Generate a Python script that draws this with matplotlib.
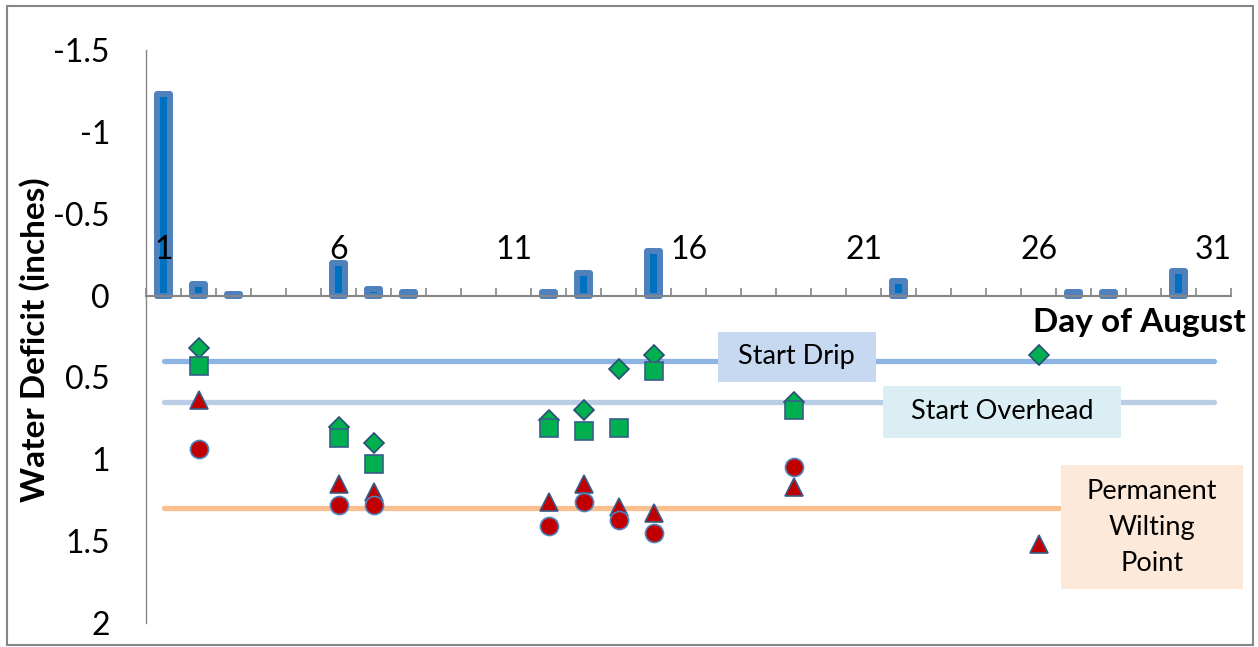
import numpy as np
import matplotlib.pyplot as plt
from matplotlib.patches import Rectangle

plt.rcParams['font.family'] = ['Lato', 'DejaVu Sans']

# rain / irrigation bars (negative = water added)
bar_days = [1, 2, 3, 6, 7, 8, 12, 13, 15, 22, 27, 28, 30]
bar_vals = [-1.23, -0.07, -0.01, -0.20, -0.04, -0.02, -0.02, -0.14, -0.27, -0.09, -0.02, -0.02, -0.15]

# deficit readings, four sensors
dia_days = [2, 6, 7, 12, 13, 14, 15, 19, 26]
dia_vals = [0.32, 0.80, 0.90, 0.76, 0.70, 0.45, 0.36, 0.65, 0.36]
sq_days = [2, 6, 7, 12, 13, 14, 15, 19]
sq_vals = [0.43, 0.87, 1.03, 0.81, 0.83, 0.81, 0.46, 0.70]
tri_days = [2, 6, 7, 12, 13, 14, 15, 19, 26]
tri_vals = [0.64, 1.15, 1.20, 1.26, 1.15, 1.29, 1.33, 1.17, 1.52]
circ_days = [2, 6, 7, 12, 13, 14, 15, 19]
circ_vals = [0.94, 1.28, 1.28, 1.41, 1.26, 1.37, 1.45, 1.05]

# thresholds
line_days = [1, 31]
drip_level = 0.4
overhead_level = 0.65
pwp_level = 1.3

y_ticks = [-1.5, -1, -0.5, 0, 0.5, 1, 1.5, 2]
y_labels = ['-1.5', '-1', '-0.5', '0', '0.5', '1', '1.5', '2']
x_ticks = [1, 6, 11, 16, 21, 26, 31]

fig = plt.figure(figsize=(12.58, 6.47), dpi=100)
ax = fig.add_axes([0.1161, 0.0371, 0.8625, 0.8856])

# threshold lines
ax.plot(line_days, [drip_level] * 2, color='#8EB4E3', lw=3.8, solid_capstyle='round', zorder=1)
ax.plot(line_days, [overhead_level] * 2, color='#B9CDE5', lw=3.8, solid_capstyle='round', zorder=1)
ax.plot(line_days, [pwp_level] * 2, color='#FAC090', lw=3.8, solid_capstyle='round', zorder=1)

# bars below the axis labels so "1" shows on top of the tall bar
bars = ax.bar(bar_days, bar_vals, width=0.39, color='#0070C0', edgecolor='#4F81BD',
              linewidth=4.3, zorder=1.2)
for b in bars:
    b.set_joinstyle('round')

ax.plot(dia_days, dia_vals, 'D', ms=10, mfc='#00B050', mec='#2C4D75', mew=1.2, zorder=3)
ax.plot(sq_days, sq_vals, 's', ms=13, mfc='#00B050', mec='#385D8A', mew=1.2, zorder=4)
ax.plot(tri_days, tri_vals, '^', ms=13.5, mfc='#C00000', mec='#385D8A', mew=1.2, zorder=5)
ax.plot(circ_days, circ_vals, 'o', ms=13, mfc='#C00000', mec='#4F81BD', mew=1.2, zorder=6)

ax.set_xlim(0.5, 31.5)
ax.set_ylim(2, -1.5)

# x axis sits at zero, labels above it
ax.spines['bottom'].set_visible(False)
ax.spines['right'].set_visible(False)
ax.spines['top'].set_position(('data', 0))
ax.spines['top'].set_color('#868686')
ax.spines['top'].set_linewidth(1.5)
ax.spines['left'].set_color('#868686')
ax.spines['left'].set_linewidth(1.0)
ax.xaxis.tick_top()
ax.set_xticks(x_ticks)
ax.set_xticklabels([str(d) for d in x_ticks])
ax.set_xticks(np.arange(0.5, 32, 1), minor=True)
ax.tick_params(axis='x', which='major', length=0, pad=22, labelsize=23)
ax.tick_params(axis='x', which='minor', length=6, width=1.2, color='#868686', direction='out')

ax.set_yticks(y_ticks)
ax.set_yticklabels(y_labels)
ax.tick_params(axis='y', length=0, pad=26, labelsize=23)

fig.text(35 / 1258, 1 - 340 / 647, 'Water Deficit (inches)', rotation=90,
         ha='center', va='center', fontsize=24, fontweight='bold')
ax.text(1.0138, 0.525, 'Day of August', transform=ax.transAxes, ha='right', va='center',
        fontsize=24, fontweight='bold', clip_on=False)

# label boxes
boxes = [
    (0.527, 0.4206, 0.1456, 0.0873, '#C6D9F1', 'Start Drip', 1.0),
    (0.6793, 0.3229, 0.2194, 0.0908, '#DBEEF4', 'Start Overhead', 1.0),
    (0.8433, 0.0593, 0.1677, 0.2164, '#FDE9D9', 'Permanent\nWilting\nPoint', 1.55),
]
for x0, y0, w, h, fc, txt, ls in boxes:
    ax.add_patch(Rectangle((x0, y0), w, h, transform=ax.transAxes, facecolor=fc,
                           edgecolor='none', zorder=7, clip_on=False))
    ax.text(x0 + w / 2, y0 + h / 2, txt, transform=ax.transAxes, ha='center', va='center',
            fontsize=19.5, linespacing=ls, zorder=8)

fig.patches.append(Rectangle((0.0056, 0.003), 0.9905, 0.9876, transform=fig.transFigure,
                             fill=False, edgecolor='#868686', linewidth=1.5))

fig.savefig('out.png', dpi=100)
